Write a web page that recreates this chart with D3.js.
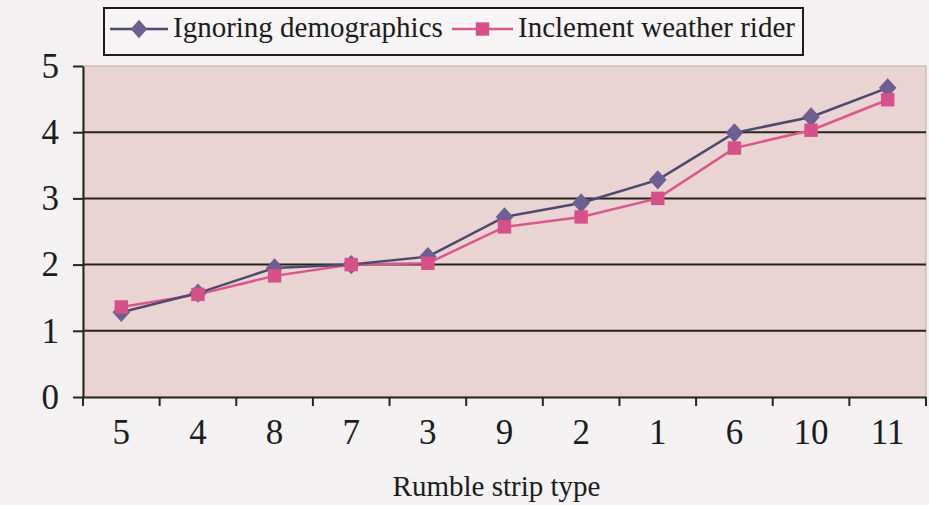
<!DOCTYPE html>
<html>
<head>
<meta charset="utf-8">
<script src="https://cdn.jsdelivr.net/npm/d3@7"></script>
<style>
  body { margin: 0; background: #f3f1f2; }
  svg { display: block; }
  text { font-family: "Liberation Serif", "Times New Roman", serif; fill: #1c1c1c; }
</style>
</head>
<body>
<div id="chart"></div>
<script>
// rumble strip types, in the order shown on the x axis
var categories = ['5', '4', '8', '7', '3', '9', '2', '1', '6', '10', '11']
var ignoringDemographics = [1.28, 1.57, 1.95, 2.0, 2.12, 2.72, 2.93, 3.28, 3.99, 4.23, 4.67]
var inclementWeatherRider = [1.36, 1.55, 1.83, 2.0, 2.02, 2.57, 2.72, 3.0, 3.76, 4.03, 4.49]
var yTicks = [0, 1, 2, 3, 4, 5]
var seriesNames = ['Ignoring demographics', 'Inclement weather rider']

var width = 929
var height = 505
var plotLeft = 83, plotRight = 926, plotTop = 66, plotBottom = 397

var svg = d3.select('#chart').append('svg')
	.attr('width', width)
	.attr('height', height)

var x = d3.scaleBand().domain(categories).range([plotLeft, plotRight])
var y = d3.scaleLinear().domain([0, 5]).range([plotBottom, plotTop])

// plot background
svg.append('rect')
	.attr('x', plotLeft).attr('y', plotTop)
	.attr('width', plotRight - plotLeft).attr('height', plotBottom - plotTop)
	.attr('fill', '#e9d3d3')
	.attr('stroke', '#b9aaa6')
	.attr('stroke-width', 1)

// gridlines
svg.append('g').selectAll('line')
	.data(yTicks.filter(function(d) { return d > 0 && d < 5 }))
	.enter().append('line')
	.attr('x1', plotLeft).attr('x2', plotRight)
	.attr('y1', function(d) { return y(d) }).attr('y2', function(d) { return y(d) })
	.attr('stroke', '#26241c')
	.attr('stroke-width', 2)

// y axis
var yAxis = svg.append('g')
	.attr('transform', 'translate(' + plotLeft + ',0)')
	.call(d3.axisLeft(y).tickValues(yTicks).tickFormat(d3.format('d')).tickSize(10).tickPadding(14).tickSizeOuter(0))
yAxis.select('.domain').attr('stroke', '#26241c').attr('stroke-width', 2)
yAxis.selectAll('.tick line').attr('stroke', '#26241c').attr('stroke-width', 2)
yAxis.selectAll('text')
	.style('font-family', '"Liberation Serif", serif')
	.style('font-size', '35px')
	.attr('fill', '#1c1c1c')

// x axis (labels centred in bands, ticks on band edges)
var xAxis = svg.append('g')
	.attr('transform', 'translate(0,' + plotBottom + ')')
	.call(d3.axisBottom(x).tickSize(0).tickPadding(22).tickSizeOuter(0))
xAxis.select('.domain').attr('stroke', '#26241c').attr('stroke-width', 2)
xAxis.selectAll('text')
	.style('font-family', '"Liberation Serif", serif')
	.style('font-size', '35px')
	.attr('fill', '#1c1c1c')

var edges = categories.map(function(c) { return x(c) }).concat([x.range()[1]])
svg.append('g').selectAll('line')
	.data(edges)
	.enter().append('line')
	.attr('x1', function(d) { return d }).attr('x2', function(d) { return d })
	.attr('y1', plotBottom).attr('y2', plotBottom + 9)
	.attr('stroke', '#26241c')
	.attr('stroke-width', 2)

svg.append('text')
	.attr('x', (plotLeft + plotRight) / 2 - 8)
	.attr('y', 496)
	.attr('text-anchor', 'middle')
	.style('font-size', '29px')
	.text('Rumble strip type')

function cx(d, i) { return x(categories[i]) + x.bandwidth() / 2 }

var line = d3.line()
	.x(function(d, i) { return cx(d, i) })
	.y(function(d) { return y(d) })

// series 2: pink squares
svg.append('path')
	.datum(inclementWeatherRider)
	.attr('d', line)
	.attr('fill', 'none')
	.attr('stroke', '#d8588a')
	.attr('stroke-width', 2.5)

// series 1: purple diamonds
svg.append('path')
	.datum(ignoringDemographics)
	.attr('d', line)
	.attr('fill', 'none')
	.attr('stroke', '#4d4a6c')
	.attr('stroke-width', 2.5)

var diamond = d3.symbol().type(d3.symbolDiamond).size(120)
var square = d3.symbol().type(d3.symbolSquare).size(180)

svg.append('g').selectAll('path')
	.data(ignoringDemographics)
	.enter().append('path')
	.attr('d', diamond)
	.attr('transform', function(d, i) { return 'translate(' + cx(d, i) + ',' + y(d) + ') scale(1.5,0.95)' })
	.attr('fill', '#6e5f92')

svg.append('g').selectAll('path')
	.data(inclementWeatherRider)
	.enter().append('path')
	.attr('d', square)
	.attr('transform', function(d, i) { return 'translate(' + cx(d, i) + ',' + y(d) + ')' })
	.attr('fill', '#d65189')

// legend
var legend = svg.append('g')
legend.append('rect')
	.attr('x', 104).attr('y', 8)
	.attr('width', 699).attr('height', 47)
	.attr('fill', '#f6f4f5')
	.attr('stroke', '#1c1c1c')
	.attr('stroke-width', 2)

var legendItems = [
	{ name: seriesNames[0], x0: 110, color: '#4d4a6c', mark: '#6e5f92', sym: diamond, sx: 1.4, sy: 0.9, tx: 173 },
	{ name: seriesNames[1], x0: 452, color: '#d8588a', mark: '#d65189', sym: square, sx: 1, sy: 1, tx: 518 }
]
legendItems.forEach(function(it) {
	legend.append('line')
		.attr('x1', it.x0).attr('x2', it.tx - 5)
		.attr('y1', 29).attr('y2', 29)
		.attr('stroke', it.color)
		.attr('stroke-width', 2.5)
	legend.append('path')
		.attr('d', it.sym)
		.attr('transform', 'translate(' + ((it.x0 + it.tx - 5) / 2) + ',29) scale(' + it.sx + ',' + it.sy + ')')
		.attr('fill', it.mark)
	legend.append('text')
		.attr('x', it.tx).attr('y', 37)
		.style('font-size', '29px')
		.text(it.name)
})
</script>
</body>
</html>
